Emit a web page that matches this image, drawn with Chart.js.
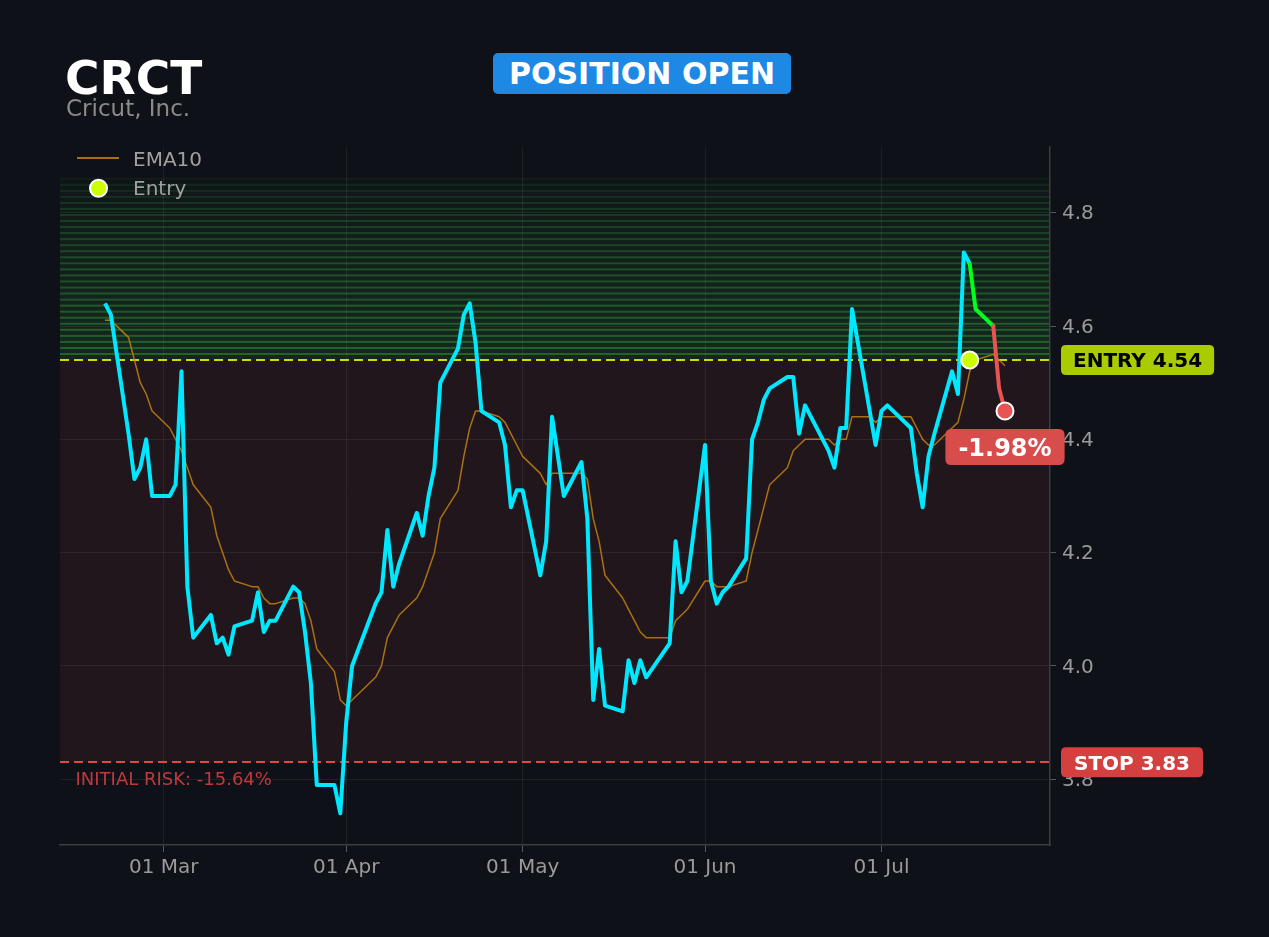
<!DOCTYPE html>
<html>
<head>
<meta charset="utf-8">
<script src="https://cdn.jsdelivr.net/npm/chart.js@4.4.1/dist/chart.umd.min.js"></script>
<style>
html,body{margin:0;padding:0;background:#0e1117;width:1269px;height:937px;overflow:hidden;font-family:"DejaVu Sans",sans-serif;}
#wrap{position:relative;width:1269px;height:937px;}
#c{position:absolute;left:0;top:0;}
#ticker{position:absolute;left:65px;top:54px;font-size:47px;line-height:47px;font-weight:bold;color:#ffffff;white-space:nowrap;}
#name{position:absolute;left:66px;top:96.5px;font-size:23px;line-height:23px;color:#8a8a8a;white-space:nowrap;}
#badge{position:absolute;left:493px;top:53px;width:298px;height:41px;background:#1e88e5;border-radius:5px;color:#ffffff;font-weight:bold;font-size:30px;line-height:30px;display:flex;align-items:center;justify-content:center;white-space:nowrap;}
</style>
</head>
<body>
<div id="wrap">
<canvas id="c" width="1269" height="937"></canvas>
<div id="ticker">CRCT</div>
<div id="name">Cricut, Inc.</div>
<div id="badge">POSITION OPEN</div>
</div>
<script>
// ---- data ----
const dates = [
 '2026-02-19','2026-02-20','2026-02-23','2026-02-24','2026-02-25','2026-02-26','2026-02-27',
 '2026-03-02','2026-03-03','2026-03-04','2026-03-05','2026-03-06',
 '2026-03-09','2026-03-10','2026-03-11','2026-03-12','2026-03-13',
 '2026-03-16','2026-03-17','2026-03-18','2026-03-19','2026-03-20',
 '2026-03-23','2026-03-24','2026-03-25','2026-03-26','2026-03-27',
 '2026-03-30','2026-03-31','2026-04-01','2026-04-02',
 '2026-04-06','2026-04-07','2026-04-08','2026-04-09','2026-04-10',
 '2026-04-13','2026-04-14','2026-04-15','2026-04-16','2026-04-17',
 '2026-04-20','2026-04-21','2026-04-22','2026-04-23','2026-04-24',
 '2026-04-27','2026-04-28','2026-04-29','2026-04-30','2026-05-01',
 '2026-05-04','2026-05-05','2026-05-06','2026-05-07','2026-05-08',
 '2026-05-11','2026-05-12','2026-05-13','2026-05-14','2026-05-15',
 '2026-05-18','2026-05-19','2026-05-20','2026-05-21','2026-05-22',
 '2026-05-26','2026-05-27','2026-05-28','2026-05-29',
 '2026-06-01','2026-06-02','2026-06-03','2026-06-04','2026-06-05',
 '2026-06-08','2026-06-09','2026-06-10','2026-06-11','2026-06-12',
 '2026-06-15','2026-06-16','2026-06-17','2026-06-18',
 '2026-06-22','2026-06-23','2026-06-24','2026-06-25','2026-06-26',
 '2026-06-29','2026-06-30','2026-07-01','2026-07-02',
 '2026-07-06','2026-07-07','2026-07-08','2026-07-09','2026-07-10',
 '2026-07-13','2026-07-14','2026-07-15','2026-07-16','2026-07-17',
 '2026-07-20','2026-07-21','2026-07-22'
];
const closes = [
 4.64,4.62,4.41,4.33,4.35,4.40,4.30,
 4.30,4.32,4.52,4.14,4.05,
 4.09,4.04,4.05,4.02,4.07,
 4.08,4.13,4.06,4.08,4.08,
 4.14,4.13,4.06,3.97,3.79,
 3.79,3.74,3.90,4.00,
 4.11,4.13,4.24,4.14,4.18,
 4.27,4.23,4.30,4.35,4.50,
 4.56,4.62,4.64,4.57,4.45,
 4.43,4.39,4.28,4.31,4.31,
 4.16,4.22,4.44,4.37,4.30,
 4.36,4.26,3.94,4.03,3.93,
 3.92,4.01,3.97,4.01,3.98,
 4.04,4.22,4.13,4.15,
 4.39,4.15,4.11,4.13,4.14,
 4.19,4.40,4.43,4.47,4.49,
 4.51,4.51,4.41,4.46,
 4.38,4.35,4.42,4.42,4.63,
 4.45,4.39,4.45,4.46,
 4.42,4.34,4.28,4.37,4.41,
 4.52,4.48,4.73,4.71,4.63,
 4.60,4.49,4.45
];
const ema10 = [
 4.61,4.61,4.58,4.54,4.50,4.48,4.45,
 4.42,4.40,4.38,4.35,4.32,
 4.28,4.23,4.20,4.17,4.15,
 4.14,4.14,4.12,4.11,4.11,
 4.12,4.12,4.11,4.08,4.03,
 3.99,3.94,3.93,3.94,
 3.98,4.00,4.05,4.07,4.09,
 4.12,4.14,4.17,4.20,4.26,
 4.31,4.37,4.42,4.45,4.45,
 4.44,4.43,4.41,4.39,4.37,
 4.34,4.32,4.34,4.34,4.34,
 4.34,4.33,4.26,4.22,4.16,
 4.12,4.10,4.08,4.06,4.05,
 4.05,4.08,4.09,4.10,
 4.15,4.15,4.14,4.14,4.14,
 4.15,4.20,4.24,4.28,4.32,
 4.35,4.38,4.39,4.40,
 4.40,4.39,4.40,4.40,4.44,
 4.44,4.43,4.44,4.44,
 4.44,4.42,4.40,4.39,4.39,
 4.42,4.43,4.47,4.52,4.54,
 4.55,4.54,4.53
];
const ENTRY_DATE = '2026-07-16';
const ENTRY_PRICE = 4.54;
const STOP_PRICE = 3.83;
const ZONE_TOP = 4.86;
const monthTicks = ['2026-03-01','2026-04-01','2026-05-01','2026-06-01','2026-07-01'];
const monthLabels = ['01 Mar','01 Apr','01 May','01 Jun','01 Jul'];
const yTicks = [3.8,4.0,4.2,4.4,4.6,4.8];

// ---- helpers ----
const BASE = Date.UTC(2026,2,1);
function dayOf(s){const p=s.split('-').map(Number);return (Date.UTC(p[0],p[1]-1,p[2])-BASE)/86400000;}
const xs = dates.map(dayOf);
const entryX = dayOf(ENTRY_DATE);
const pricePts = [], posPts = [], emaPts = [];
xs.forEach((x,i)=>{
  if (x <= entryX) pricePts.push({x:x,y:closes[i]});
  if (x >= entryX) posPts.push({x:x,y:closes[i]});
  emaPts.push({x:x,y:ema10[i]});
});
const monthDays = monthTicks.map(dayOf);
const xSpan = xs[xs.length-1]-xs[0];
const xMin = xs[0]-xSpan*0.05, xMax = xs[xs.length-1]+xSpan*0.05;
const lo = Math.min(Math.min.apply(null,closes), STOP_PRICE);
const hi = Math.max(Math.max.apply(null,closes), ZONE_TOP);
const yMin = lo-(hi-lo)*0.05, yMax = hi+(hi-lo)*0.05;
const lastClose = closes[closes.length-1];
const pnl = (lastClose-ENTRY_PRICE)/ENTRY_PRICE*100;
const risk = (STOP_PRICE-ENTRY_PRICE)/ENTRY_PRICE*100;

const FONT = '"DejaVu Sans", sans-serif';
const EMA_COLOR = 'rgba(190,125,18,0.88)';
const GREEN = '#00ff1e', RED = '#e85454';

function rr(ctx,x,y,w,h,r){ctx.beginPath();ctx.moveTo(x+r,y);ctx.lineTo(x+w-r,y);ctx.quadraticCurveTo(x+w,y,x+w,y+r);ctx.lineTo(x+w,y+h-r);ctx.quadraticCurveTo(x+w,y+h,x+w-r,y+h);ctx.lineTo(x+r,y+h);ctx.quadraticCurveTo(x,y+h,x,y+h-r);ctx.lineTo(x,y+r);ctx.quadraticCurveTo(x,y,x+r,y);ctx.closePath();}

const deco = {
  id:'deco',
  beforeDraw(chart){
    const ctx=chart.ctx, a=chart.chartArea, y=chart.scales.y;
    ctx.save();
    const yE=y.getPixelForValue(ENTRY_PRICE), yS=y.getPixelForValue(STOP_PRICE);
    ctx.fillStyle='#20161c';
    ctx.fillRect(a.left,yE,a.right-a.left,yS-yE);
    const n=30, h=(ZONE_TOP-ENTRY_PRICE)/n;
    for(let i=0;i<n;i++){
      const t=i/n;
      const y0=y.getPixelForValue(ENTRY_PRICE+i*h), y1=y.getPixelForValue(ENTRY_PRICE+(i+1)*h);
      ctx.fillStyle='rgba(50,140,60,'+(0.18*Math.sqrt(1-t)).toFixed(3)+')';
      ctx.fillRect(a.left,y1,a.right-a.left,y0-y1);
      ctx.fillStyle='rgba(50,150,60,'+(0.55*Math.sqrt(1-t)).toFixed(3)+')';
      ctx.fillRect(a.left,y1-1,a.right-a.left,2);
    }
    ctx.restore();
  },
  beforeDatasetsDraw(chart){
    const ctx=chart.ctx, a=chart.chartArea, y=chart.scales.y;
    ctx.save();
    ctx.lineWidth=2.2;
    ctx.setLineDash([9,5]);
    ctx.strokeStyle='#c8e000';
    const yE=Math.round(y.getPixelForValue(ENTRY_PRICE));
    ctx.beginPath();ctx.moveTo(a.left,yE);ctx.lineTo(a.right,yE);ctx.stroke();
    ctx.strokeStyle='#e04848';
    const yS=Math.round(y.getPixelForValue(STOP_PRICE));
    ctx.beginPath();ctx.moveTo(a.left,yS);ctx.lineTo(a.right,yS);ctx.stroke();
    ctx.restore();
  },
  afterDraw(chart){
    const ctx=chart.ctx, a=chart.chartArea, x=chart.scales.x, y=chart.scales.y;
    ctx.save();
    // legend
    ctx.strokeStyle=EMA_COLOR; ctx.lineWidth=2;
    ctx.beginPath();ctx.moveTo(77,158);ctx.lineTo(119,158);ctx.stroke();
    ctx.beginPath();ctx.arc(98.5,188.3,8.5,0,Math.PI*2);
    ctx.fillStyle='#ccff00';ctx.fill();ctx.lineWidth=2;ctx.strokeStyle='#ffffff';ctx.stroke();
    ctx.font='20px '+FONT; ctx.fillStyle='#a0a0a0'; ctx.textAlign='left'; ctx.textBaseline='alphabetic';
    ctx.fillText('EMA10',133,165.5);
    ctx.fillText('Entry',133,195.3);
    // initial risk
    const yS=y.getPixelForValue(STOP_PRICE), yE=y.getPixelForValue(ENTRY_PRICE);
    ctx.font='18px '+FONT; ctx.fillStyle='#c0393b';
    ctx.fillText('INITIAL RISK: '+risk.toFixed(2)+'%',75.5,yS+23);
    // right badges
    ctx.font='bold 20px '+FONT;
    let txt='ENTRY '+ENTRY_PRICE.toFixed(2);
    let w=ctx.measureText(txt).width+24;
    rr(ctx,a.right+11,yE-15,w,30,5); ctx.fillStyle='#a8cc00'; ctx.fill();
    ctx.fillStyle='#000000'; ctx.textAlign='center';
    ctx.fillText(txt,a.right+11+w/2,yE+7.3);
    txt='STOP '+STOP_PRICE.toFixed(2);
    w=ctx.measureText(txt).width+26;
    rr(ctx,a.right+11,yS-15,w,30,5); ctx.fillStyle='#d43f3f'; ctx.fill();
    ctx.fillStyle='#ffffff';
    ctx.fillText(txt,a.right+11+w/2,yS+7.3);
    // pnl badge
    const lx=x.getPixelForValue(xs[xs.length-1]), ly=y.getPixelForValue(lastClose);
    ctx.font='bold 24px '+FONT;
    txt=pnl.toFixed(2)+'%';
    w=ctx.measureText(txt).width+26;
    const cy=ly+36;
    rr(ctx,lx-w/2,cy-18,w,36,6); ctx.fillStyle='#d94c4c'; ctx.fill();
    ctx.fillStyle='#ffffff';
    ctx.fillText(txt,lx,cy+8.7);
    ctx.restore();
  }
};

Chart.defaults.font.family = FONT;
const tickFont = {family:FONT,size:20};
new Chart(document.getElementById('c'),{
  type:'line',
  data:{datasets:[
    {label:'Entry',type:'scatter',data:[{x:entryX,y:ENTRY_PRICE}],pointRadius:8.5,pointBorderWidth:2,pointBorderColor:'#ffffff',pointBackgroundColor:'#ccff00',showLine:false,order:0},
    {label:'Position',data:posPts,borderWidth:4,borderColor:GREEN,borderJoinStyle:'round',borderCapStyle:'round',
     segment:{borderColor:c=>c.p1.parsed.y>=ENTRY_PRICE?GREEN:RED},
     pointRadius:c=>c.dataIndex===posPts.length-1?8.5:0,pointBackgroundColor:RED,pointBorderColor:'#ffffff',pointBorderWidth:2,
     tension:0,order:1},
    {label:'Price',data:pricePts,borderColor:'#00e8ff',borderWidth:4,borderJoinStyle:'round',pointRadius:0,tension:0,order:2},
    {label:'EMA10',data:emaPts,borderColor:EMA_COLOR,borderWidth:1.5,borderJoinStyle:'round',pointRadius:0,tension:0,order:3}
  ]},
  options:{
    responsive:false,animation:false,devicePixelRatio:1,
    layout:{padding:{left:60,top:147,right:0,bottom:0}},
    plugins:{legend:{display:false},tooltip:{enabled:false}},
    scales:{
      x:{type:'linear',min:xMin,max:xMax,
        afterBuildTicks:s=>{s.ticks=monthDays.map(v=>({value:v}));},
        afterFit:s=>{s.height=92;},
        ticks:{callback:v=>monthLabels[monthDays.indexOf(v)],color:'#9a9a9a',font:tickFont,padding:4,maxRotation:0,autoSkip:false},
        grid:{color:'rgba(255,255,255,0.065)',tickColor:'#555a60',tickLength:7},
        border:{display:true,color:'#3a3d42',width:1.5}},
      y:{position:'right',min:yMin,max:yMax,
        afterBuildTicks:s=>{s.ticks=yTicks.map(v=>({value:v}));},
        afterFit:s=>{s.width=219;},
        ticks:{callback:v=>Number(v).toFixed(1),color:'#9a9a9a',font:tickFont,padding:6,labelOffset:1.5},
        grid:{color:'rgba(255,255,255,0.065)',tickColor:'#555a60',tickLength:6},
        border:{display:true,color:'#3a3d42',width:1.5}}
    }
  },
  plugins:[deco]
});
</script>
</body>
</html>
